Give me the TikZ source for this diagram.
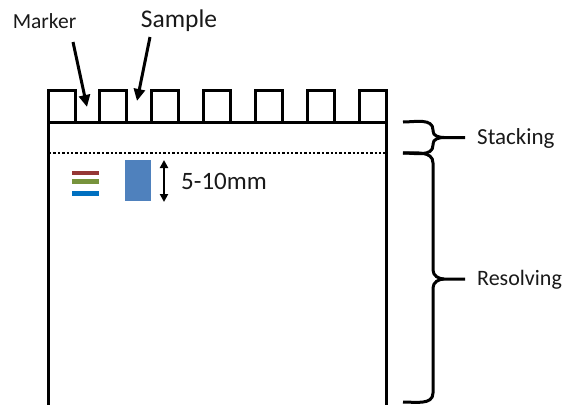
\documentclass[tikz,border=0pt]{standalone}
\usepackage{fontspec}
\setmainfont{Carlito}
\usetikzlibrary{arrows.meta}
\definecolor{mred}{HTML}{953735}
\definecolor{mgreen}{HTML}{77933C}
\definecolor{mblue}{HTML}{0070C0}
\definecolor{sblue}{HTML}{4F81BD}
\tikzset{
  gelline/.style={line width=3pt, line cap=butt, line join=miter},
  bracestyle/.style={line width=3pt, line cap=butt},
  pointer/.style={line width=3pt, -{Triangle[length=12pt,width=11pt]}},
  lbl/.style={inner sep=0pt, text=black!90},
}
\begin{document}
\begin{tikzpicture}[x=1pt,y=-1pt]
\useasboundingbox (0,0) rectangle (564,404);
% gel body
\draw[gelline] (48,405) -- (48,122) -- (386,122) -- (386,405);
% wells
\foreach \i in {0,...,6}{
  \pgfmathsetmacro{\l}{48+51.9*\i}
  \pgfmathsetmacro{\r}{\l+27}
  \draw[gelline] (\l,122) -- (\l,90) -- (\r,90) -- (\r,122);
}
% dotted stacking/resolving boundary
\draw[line width=2.6pt, dash pattern=on 2.4pt off 2pt] (49,153) -- (385,153);
% marker bands
\fill[mred]   (72,171) rectangle (99,175);
\fill[mgreen] (72,179) rectangle (99,183.5);
\fill[mblue]  (72,191) rectangle (99,195.5);
% sample band
\node[fill=sblue, minimum width=26pt, minimum height=41pt, inner sep=0pt] (band) at (138,180.5) {};
% size arrow
\coordinate (sztop) at (164,160);
\coordinate (szbot) at (164,202);
\draw[line width=2.2pt, {Triangle[length=8pt,width=8pt]}-{Triangle[length=8pt,width=8pt]}] (sztop) -- (szbot);
\node[lbl, anchor=west, font=\fontsize{25}{28}\selectfont] (size) at (181,181) {5-10mm};
% labels top
\node[lbl, font=\fontsize{21.5}{25}\selectfont] (marker) at (44.5,21) {Marker};
\node[lbl, font=\fontsize{25.5}{28}\selectfont] (sample) at (179,21) {Sample};
\coordinate (mstart) at (73,42);
\coordinate (mend) at (87,107);
\coordinate (sstart) at (150,37);
\coordinate (send) at (137,101);
\draw[pointer] (mstart) -- (mend);
\draw[pointer] (sstart) -- (send);
% stacking brace
\coordinate (stip) at (465,137.5);
\draw[bracestyle] (403,122) to[out=0,in=90] (433,130) -- (433,131) to[out=-90,in=180] (444,137.5) -- (stip);
\draw[bracestyle] (444,137.5) to[out=180,in=90] (433,144) -- (433,145) to[out=-90,in=0] (403,153);
\node[lbl, anchor=west, font=\fontsize{23}{26}\selectfont] (stacking) at (477,138) {Stacking};
% resolving brace
\coordinate (rtip) at (465,279);
\draw[bracestyle] (403,153) to[out=0,in=90] (433,163) -- (433,270) to[out=-90,in=180] (444,279) -- (rtip);
\draw[bracestyle] (444,279) to[out=180,in=90] (433,288) -- (433,393) to[out=-90,in=0] (403,402);
\node[lbl, anchor=west, font=\fontsize{22}{26}\selectfont] (resolving) at (477,280) {Resolving};
\end{tikzpicture}
\end{document}
